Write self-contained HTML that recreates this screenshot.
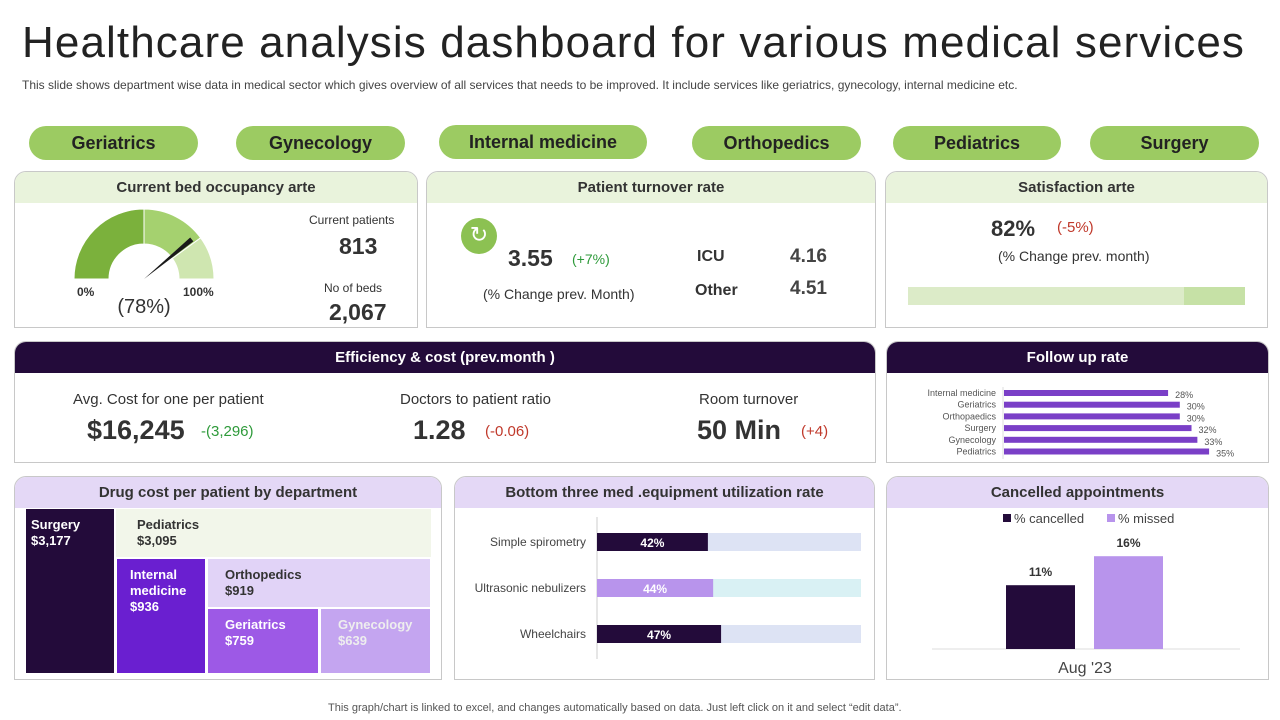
<!DOCTYPE html>
<html><head><meta charset="utf-8"><style>
*{box-sizing:border-box;margin:0;padding:0}
body{width:1280px;height:720px;background:#fff;font-family:"Liberation Sans",sans-serif;position:relative;overflow:hidden;color:#333}
.abs{position:absolute}
.pill{position:absolute;height:34px;border-radius:17px;background:#9ccb62;color:#222;font-weight:bold;font-size:18px;text-align:center;line-height:34px}
.panel{position:absolute;border:1px solid #c8c8c8;border-radius:12px 12px 0 0;overflow:hidden;background:#fff}
.hdr{height:31px;text-align:center;line-height:31px;font-size:15px;font-weight:bold}
.g{background:#e9f3dc;color:#333}
.d{background:#230b3a;color:#fff}
.l{background:#e4d8f6;color:#333}
.t{position:absolute;white-space:nowrap}
.tm{position:absolute;font-weight:bold;font-size:13px;padding:8px 0 0 15px;line-height:16px}
</style></head><body>
<div class="t" style="left:22px;top:18px;font-size:44px;color:#222;letter-spacing:1.1px">Healthcare analysis dashboard for various medical services</div>
<div class="t" style="left:22px;top:78px;font-size:12px;color:#444">This slide shows department wise data in medical sector which gives overview of all services that needs to be improved. It include services like geriatrics, gynecology, internal medicine etc.</div>

<div class="pill" style="left:29px;top:126px;width:169px">Geriatrics</div>
<div class="pill" style="left:236px;top:126px;width:169px">Gynecology</div>
<div class="pill" style="left:439px;top:125px;width:208px">Internal medicine</div>
<div class="pill" style="left:692px;top:126px;width:169px">Orthopedics</div>
<div class="pill" style="left:893px;top:126px;width:168px">Pediatrics</div>
<div class="pill" style="left:1090px;top:126px;width:169px">Surgery</div>

<div class="panel" style="left:14px;top:171px;width:404px;height:157px">
 <div class="hdr g">Current bed occupancy arte</div>
 <svg class="abs" style="left:0;top:0" width="404" height="157">
  <g id="gauge"></g>
  <text x="62" y="124" font-size="12" font-weight="bold" fill="#333" text-anchor="start">0%</text>
  <text x="168" y="124" font-size="12" font-weight="bold" fill="#333">100%</text>
  <text x="129" y="141" font-size="20" fill="#333" text-anchor="middle">(78%)</text>
 </svg>
 <div class="t" style="left:294px;top:41px;font-size:12px">Current  patients</div>
 <div class="t" style="left:324px;top:61px;font-size:23px;font-weight:bold">813</div>
 <div class="t" style="left:309px;top:109px;font-size:12px">No of beds</div>
 <div class="t" style="left:314px;top:127px;font-size:23px;font-weight:bold">2,067</div>
</div>

<div class="panel" style="left:426px;top:171px;width:450px;height:157px">
 <div class="hdr g">Patient turnover rate</div>
 <div class="abs" style="left:34px;top:46px;width:36px;height:36px;border-radius:50%;background:#8cc152;color:#fff;font-size:22px;text-align:center;line-height:34px">&#8635;</div>
 <div class="t" style="left:81px;top:73px;font-size:23px;font-weight:bold">3.55</div>
 <div class="t" style="left:145px;top:79px;font-size:14px;color:#2e9a3a">(+7%)</div>
 <div class="t" style="left:56px;top:114px;font-size:14px">(% Change prev. Month)</div>
 <div class="t" style="left:270px;top:76px;font-size:16px;font-weight:bold">ICU</div>
 <div class="t" style="left:363px;top:74px;font-size:19px;font-weight:bold;color:#444">4.16</div>
 <div class="t" style="left:268px;top:110px;font-size:16px;font-weight:bold">Other</div>
 <div class="t" style="left:363px;top:106px;font-size:19px;font-weight:bold;color:#444">4.51</div>
</div>

<div class="panel" style="left:885px;top:171px;width:383px;height:157px">
 <div class="hdr g">Satisfaction  arte</div>
 <div class="t" style="left:105px;top:44px;font-size:22px;font-weight:bold">82%</div>
 <div class="t" style="left:171px;top:47px;font-size:15px;color:#c0392b">(-5%)</div>
 <div class="t" style="left:112px;top:76px;font-size:14px">(% Change prev. month)</div>
 <div class="abs" style="left:22px;top:115px;width:337px;height:18px;background:#c6e1a6"></div>
 <div class="abs" style="left:22px;top:115px;width:276px;height:18px;background:#dcebc8"></div>
</div>

<div class="panel" style="left:14px;top:341px;width:862px;height:122px">
 <div class="hdr d">Efficiency &amp; cost (prev.month )</div>
 <div class="t" style="left:58px;top:49px;font-size:15px">Avg.  Cost for one per patient</div>
 <div class="t" style="left:72px;top:73px;font-size:27px;font-weight:bold">$16,245</div>
 <div class="t" style="left:186px;top:81px;font-size:15px;color:#2e9a3a">-(3,296)</div>
 <div class="t" style="left:385px;top:49px;font-size:15px">Doctors to patient ratio</div>
 <div class="t" style="left:398px;top:73px;font-size:27px;font-weight:bold">1.28</div>
 <div class="t" style="left:470px;top:81px;font-size:15px;color:#c0392b">(-0.06)</div>
 <div class="t" style="left:684px;top:49px;font-size:15px">Room turnover</div>
 <div class="t" style="left:682px;top:73px;font-size:27px;font-weight:bold">50 Min</div>
 <div class="t" style="left:786px;top:81px;font-size:15px;color:#c0392b">(+4)</div>
</div>

<div class="panel" style="left:886px;top:341px;width:383px;height:122px">
 <div class="hdr d">Follow up rate</div>
 <svg class="abs" style="left:0;top:0" width="383" height="122" id="fu"></svg>
</div>

<div class="panel" style="left:14px;top:476px;width:428px;height:204px">
 <div class="hdr l">Drug cost  per patient by department</div>
 <div id="tm"></div>
</div>

<div class="panel" style="left:454px;top:476px;width:421px;height:204px">
 <div class="hdr l">Bottom three med .equipment utilization rate</div>
 <svg class="abs" style="left:0;top:0" width="421" height="204" id="eq"></svg>
</div>

<div class="panel" style="left:886px;top:476px;width:383px;height:204px">
 <div class="hdr l">Cancelled appointments</div>
 <svg class="abs" style="left:0;top:0" width="383" height="204" id="ca"></svg>
</div>

<div class="t" style="left:328px;top:702px;font-size:11px;color:#555">This graph/chart is linked to excel,  and changes automatically based on data. Just left click on it and select “edit data”.</div>

<script>
const NS="http://www.w3.org/2000/svg";
function mk(p,tag,a,txt){const e=document.createElementNS(NS,tag);for(const k in a)e.setAttribute(k,a[k]);if(txt!==undefined)e.textContent=txt;p.appendChild(e);return e;}

const gaugeBands=[50,80,100];
const gaugeColors=["#7bb13c","#a5d16f","#cfe6b0"];
const gaugeValue=78;
const fuCats=["Internal medicine","Geriatrics","Orthopaedics","Surgery","Gynecology","Pediatrics"];
const fuVals=[28,30,30,32,33,35];
const eqCats=["Simple spirometry","Ultrasonic nebulizers","Wheelchairs"];
const eqVals=[42,44,47];
const caSeries=["% cancelled","% missed"];
const caVals=[11,16];
const caCat="Aug '23";
const tmNames=["Surgery","Pediatrics","Internal medicine","Orthopedics","Geriatrics","Gynecology"];
const tmVals=["$3,177","$3,095","$936","$919","$759","$639"];

(function(){
 const g=document.getElementById('gauge');const cx=129,cy=107,R=70,r=35;
 const ang=p=>Math.PI*(1-p/100);
 let prev=0;
 gaugeBands.forEach((b,i)=>{
  const a0=ang(prev),a1=ang(b);
  const pt=(rad,a)=>[cx+rad*Math.cos(a),cy-rad*Math.sin(a)];
  const [x0,y0]=pt(R,a0),[x1,y1]=pt(R,a1),[x2,y2]=pt(r,a1),[x3,y3]=pt(r,a0);
  const p=mk(g,'path',{d:`M${x0},${y0} A${R},${R} 0 0 1 ${x1},${y1} L${x2},${y2} A${r},${r} 0 0 0 ${x3},${y3}Z`,fill:gaugeColors[i],stroke:"#fff","stroke-width":1});
  
  
  prev=b;
 });
 const a=ang(gaugeValue);const L=62;
 const tx=cx+L*Math.cos(a),ty=cy-L*Math.sin(a);
 const nx=-Math.sin(a)*2.5,ny=-Math.cos(a)*2.5;
 const n=mk(g,'path',{d:`M${cx},${cy} L${tx+nx},${ty+ny} L${tx-nx},${ty-ny}Z`,fill:"#1a1a1a"});
 
 
})();

(function(){
 const s=document.getElementById('fu');const x0=116,k=5.86,y0=51,step=11.7;
 mk(s,'line',{x1:x0,x2:x0,y1:45,y2:117,stroke:"#ddd"});
 fuCats.forEach((c,i)=>{
  const y=y0+i*step;
  mk(s,'text',{x:x0-7,y:y+3,"font-size":9,fill:"#555","text-anchor":"end"},c);
  const b=mk(s,'rect',{x:x0+1,y:y-3,width:fuVals[i]*k,height:6,fill:"#7a3fc7"});
  
  
  mk(s,'text',{x:x0+fuVals[i]*k+8,y:y+5,"font-size":9,fill:"#555"},fuVals[i]+"%");
 });
})();

(function(){
 const s=document.getElementById('eq');const x0=142,W=264,y0=65,step=46,h=18;
 const fills=["#230b3a","#b894ec","#230b3a"],tracks=["#dde3f4","#d9f1f4","#dde3f4"];
 mk(s,'line',{x1:x0,x2:x0,y1:40,y2:182,stroke:"#ccc"});
 eqCats.forEach((c,i)=>{
  const y=y0+i*step;
  mk(s,'rect',{x:x0,y:y-h/2,width:W,height:h,fill:tracks[i]});
  const b=mk(s,'rect',{x:x0,y:y-h/2,width:W*eqVals[i]/100,height:h,fill:fills[i]});
  
  
  mk(s,'text',{x:x0-11,y:y+4,"font-size":12,fill:"#444","text-anchor":"end"},c);
  mk(s,'text',{x:x0+W*eqVals[i]/200,y:y+5,"font-size":12,"font-weight":"bold",fill:"#fff","text-anchor":"middle"},eqVals[i]+"%");
 });
})();

(function(){
 const s=document.getElementById('ca');const base=172,k=5.8,bw=69;
 const xs=[119,207],cols=["#230b3a","#b894ec"];
 mk(s,'line',{x1:45,x2:353,y1:base,y2:base,stroke:"#ddd"});
 caSeries.forEach((n,i)=>{
  const lx=116+i*104;
  mk(s,'rect',{x:lx,y:37,width:8,height:8,fill:cols[i]});
  mk(s,'text',{x:lx+11,y:46,"font-size":13,fill:"#444"},n);
  const h=caVals[i]*k;
  const b=mk(s,'rect',{x:xs[i],y:base-h,width:bw,height:h,fill:cols[i]});
  
  
  mk(s,'text',{x:xs[i]+bw/2,y:base-h-9,"font-size":12,"font-weight":"bold",fill:"#333","text-anchor":"middle"},caVals[i]+"%");
 });
 mk(s,'text',{x:198,y:196,"font-size":16,fill:"#444","text-anchor":"middle"},caCat);
})();

(function(){
 const c=document.getElementById('tm');
 const boxes=[[11,32,88,164],[101,32,315,48],[102,82,88,114],[193,82,222,48],[193,132,110,64],[306,132,109,64]];
 const bg=["#230b3a","#f2f6ea","#6a1fd0","#e1d3f7","#9d59e6","#c4a5f0"];
 const fg=["#fff","#333","#fff","#333","#fff","#eee"];
 tmNames.forEach((n,i)=>{
  const [x,y,w,h]=boxes[i];
  const d=document.createElement('div');d.className='tm';
  d.style.cssText=`left:${x}px;top:${y}px;width:${w}px;height:${h}px;background:${bg[i]};color:${fg[i]};padding-left:${i==0?5:(i==2?13:(i>2?17:21))}px`;
  d.innerHTML=(n==="Internal medicine"?"Internal<br>medicine":n)+"<br>"+tmVals[i];
  
  
  c.appendChild(d);
 });
})();
</script>
</body></html>
